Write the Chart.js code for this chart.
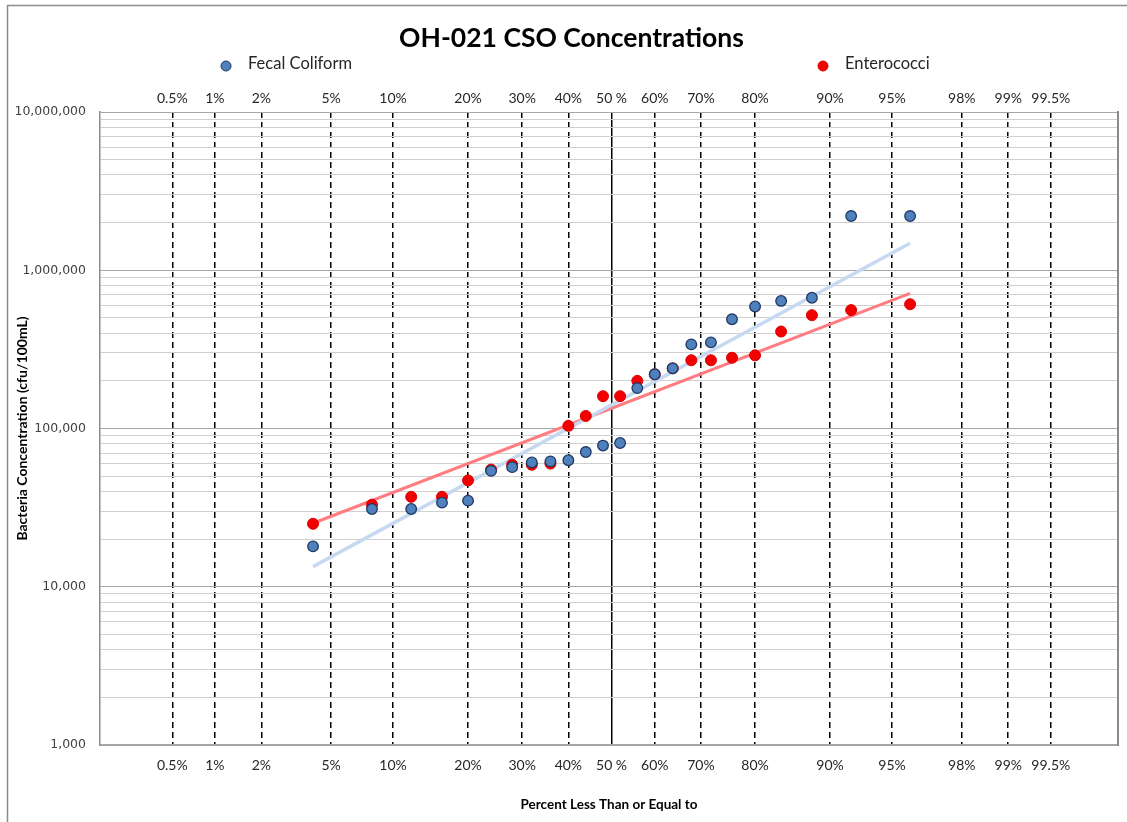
<!DOCTYPE html>
<html>
<head>
<meta charset="utf-8">
<script src="https://cdn.jsdelivr.net/npm/chart.js@4"></script>
<style>
  html, body { margin: 0; padding: 0; background: #ffffff; }
  #wrap { width: 1127px; height: 822px; position: relative; }
  canvas { display: block; }
</style>
</head>
<body>
<div id="wrap"><canvas id="c" width="1127" height="822"></canvas></div>
<script>
// ---- data ----
const plotPercent = [4, 8, 12, 16, 20, 24, 28, 32, 36, 40, 44, 48, 52, 56, 60, 64, 68, 72, 76, 80, 84, 88, 92, 96];
const fecalColiform = [18000, 31000, 31000, 34000, 35000, 54000, 57000, 61000, 62000, 63000, 71000, 78000, 81000, 180000, 220000, 240000, 340000, 350000, 490000, 590000, 640000, 670000, 2200000, 2200000];
const enterococci = [25000, 33000, 37000, 37000, 47000, 55000, 59000, 59000, 60000, 104000, 120000, 160000, 160000, 200000, 220000, 240000, 270000, 270000, 280000, 290000, 410000, 520000, 560000, 610000];
const trendPercent = [4, 96];
const fecalTrend = [13400, 1480000];
const enteroTrend = [25200, 715000];
const percentTicks = [0.5, 1, 2, 5, 10, 20, 30, 40, 50, 60, 70, 80, 90, 95, 98, 99, 99.5];
const percentLabels = ['0.5%', '1%', '2%', '5%', '10%', '20%', '30%', '40%', '50 %', '60%', '70%', '80%', '90%', '95%', '98%', '99%', '99.5%'];
const yMajorTicks = [1000, 10000, 100000, 1000000, 10000000];
const yMajorLabels = ['1,000', '10,000', '100,000', '1,000,000', '10,000,000'];
const seriesNames = ['Fecal Coliform', 'Enterococci'];

// inverse standard normal (probability-paper transform)
function normInv(p) {
  const a = [-3.969683028665376e+01, 2.209460984245205e+02, -2.759285104469687e+02, 1.383577518672690e+02, -3.066479806614716e+01, 2.506628277459239e+00];
  const b = [-5.447609879822406e+01, 1.615858368580409e+02, -1.556989798598866e+02, 6.680131188771972e+01, -1.328068155288572e+01];
  const c = [-7.784894002430293e-03, -3.223964580411365e-01, -2.400758277161838e+00, -2.549732539343734e+00, 4.374664141464968e+00, 2.938163982698783e+00];
  const d = [7.784695709041462e-03, 3.224671290700398e-01, 2.445134137142996e+00, 3.754408661907416e+00];
  const pl = 0.02425, ph = 1 - pl;
  let q, r;
  if (p < pl) {
    q = Math.sqrt(-2 * Math.log(p));
    return (((((c[0]*q+c[1])*q+c[2])*q+c[3])*q+c[4])*q+c[5]) / ((((d[0]*q+d[1])*q+d[2])*q+d[3])*q+1);
  }
  if (p <= ph) {
    q = p - 0.5; r = q * q;
    return (((((a[0]*r+a[1])*r+a[2])*r+a[3])*r+a[4])*r+a[5])*q / (((((b[0]*r+b[1])*r+b[2])*r+b[3])*r+b[4])*r+1);
  }
  q = Math.sqrt(-2 * Math.log(1 - p));
  return -(((((c[0]*q+c[1])*q+c[2])*q+c[3])*q+c[4])*q+c[5]) / ((((d[0]*q+d[1])*q+d[2])*q+d[3])*q+1);
}

const zTicks = percentTicks.map(p => normInv(p / 100));
const toPoints = (pcts, vals) => pcts.map((p, i) => ({ x: normInv(p / 100), y: vals[i] }));

const X_MIN = -3.0, X_MAX = 2.97;
const tickFont = { family: 'Lato', size: 14 };

function setPercentTicks(scale) {
  scale.ticks = zTicks.map(v => ({ value: v }));
}
function percentLabel(value, index) { return percentLabels[index]; }

function setLogTicks(scale) {
  const t = [];
  for (let e = 3; e <= 7; e++) {
    const base = Math.pow(10, e);
    for (let m = 1; m <= 9; m++) {
      const v = m * base;
      if (v > 10000000) break;
      t.push({ value: v, major: m === 1 });
    }
  }
  scale.ticks = t;
}

const frameAndLegend = {
  id: 'frameAndLegend',
  beforeDraw(chart) {
    const ctx = chart.ctx;
    ctx.save();
    ctx.fillStyle = '#ffffff';
    ctx.fillRect(0, 0, chart.width, chart.height);
    ctx.strokeStyle = '#8c8c8c';
    ctx.lineWidth = 1.5;
    ctx.beginPath();
    ctx.moveTo(7.5, chart.height);
    ctx.lineTo(7.5, 5.5);
    ctx.lineTo(chart.width, 5.5);
    ctx.stroke();
    ctx.restore();
  },
  afterDraw(chart, args, opts) {
    const ctx = chart.ctx;
    ctx.save();
    opts.items.forEach(it => {
      const ds = chart.data.datasets[it.dataset];
      ctx.beginPath();
      ctx.arc(it.x, opts.y, 5, 0, Math.PI * 2);
      ctx.fillStyle = ds.backgroundColor;
      ctx.fill();
      ctx.lineWidth = 1;
      ctx.strokeStyle = ds.borderColor;
      ctx.stroke();
      ctx.fillStyle = '#262626';
      ctx.font = '16.5px Lato';
      ctx.textBaseline = 'middle';
      ctx.textAlign = 'left';
      ctx.fillText(ds.label, it.x + 22, opts.y - 2);
    });
    ctx.restore();
  }
};

new Chart(document.getElementById('c'), {
  type: 'scatter',
  plugins: [frameAndLegend],
  data: {
    datasets: [
      {
        label: seriesNames[0],
        data: toPoints(plotPercent, fecalColiform),
        backgroundColor: '#4f81bd',
        borderColor: '#1f3864',
        borderWidth: 1.3,
        pointRadius: 5.3,
        order: 1
      },
      {
        label: seriesNames[1],
        data: toPoints(plotPercent, enterococci),
        backgroundColor: '#f20000',
        borderColor: '#e00000',
        borderWidth: 1,
        pointRadius: 5.5,
        order: 2
      },
      {
        label: 'Fecal trend',
        data: toPoints(trendPercent, fecalTrend),
        showLine: true,
        borderColor: '#c6d9f1',
        backgroundColor: '#c6d9f1',
        borderWidth: 3.5,
        pointRadius: 0,
        order: 3
      },
      {
        label: 'Entero trend',
        data: toPoints(trendPercent, enteroTrend),
        showLine: true,
        borderColor: '#ff7c80',
        backgroundColor: '#ff7c80',
        borderWidth: 3,
        pointRadius: 0,
        order: 3
      }
    ]
  },
  options: {
    responsive: false,
    animation: false,
    events: [],
    layout: { padding: { left: 16, right: 0, top: 0, bottom: 0 } },
    plugins: {
      legend: { display: false },
      tooltip: { enabled: false },
      title: {
        display: true,
        text: 'OH-021 CSO Concentrations',
        color: '#000000',
        font: { family: 'Lato', size: 26.5, weight: 'bold', lineHeight: '32px' },
        padding: { top: 22, bottom: 0 }
      },
      frameAndLegend: {
        y: 66,
        items: [ { dataset: 0, x: 226 }, { dataset: 1, x: 823 } ]
      }
    },
    scales: {
      x: {
        type: 'linear',
        position: 'bottom',
        min: X_MIN,
        max: X_MAX,
        afterBuildTicks: setPercentTicks,
        afterFit(s) { s.height = 77; },
        ticks: { callback: percentLabel, autoSkip: false, maxRotation: 0, minRotation: 0, padding: 12, color: '#262626', font: tickFont },
        grid: {
          drawTicks: false,
          color: '#000000',
          lineWidth: 1.5
        },
        border: {
          display: true,
          color: '#a6a6a6',
          width: 1.5,
          dash: ctx => (ctx.tick && Math.abs(ctx.tick.value) < 1e-9) ? [] : [6, 4]
        },
        title: {
          display: true,
          text: 'Percent Less Than or Equal to',
          color: '#000000',
          font: { family: 'Lato', size: 13.5, weight: 'bold', lineHeight: 1.2 },
          padding: { top: 0, bottom: 9 }
        }
      },
      x2: {
        type: 'linear',
        position: 'top',
        min: X_MIN,
        max: X_MAX,
        afterBuildTicks: setPercentTicks,
        afterFit(s) { s.height = 58; },
        ticks: { callback: percentLabel, autoSkip: false, maxRotation: 0, minRotation: 0, padding: 5, color: '#262626', font: tickFont },
        grid: { display: false, drawTicks: false },
        border: { display: false }
      },
      y: {
        type: 'logarithmic',
        position: 'left',
        min: 1000,
        max: 10000000,
        afterBuildTicks: setLogTicks,
        afterFit(s) { s.width = 84; },
        ticks: {
          autoSkip: false,
          padding: 14,
          color: '#404040',
          font: { family: 'DejaVu Sans', size: 12.5 },
          callback: (v) => {
            const i = yMajorTicks.indexOf(v);
            return i >= 0 ? yMajorLabels[i] : '';
          }
        },
        grid: {
          drawTicks: false,
          color: ctx => (ctx.tick && yMajorTicks.includes(ctx.tick.value)) ? '#a6a6a6' : '#d0d0d0',
          lineWidth: 1
        },
        border: { display: true, color: '#8c8c8c', width: 1.5 },
        title: {
          display: true,
          text: 'Bacteria Concentration (cfu/100mL)',
          color: '#000000',
          font: { family: 'Lato', size: 14, weight: 'bold', lineHeight: 1.2 },
          padding: { top: -2, bottom: 0 }
        }
      },
      y2: {
        type: 'linear',
        position: 'right',
        min: 0,
        max: 1,
        afterFit(s) { s.width = 9; },
        ticks: { display: false },
        grid: { display: false, drawTicks: false },
        border: { display: true, color: '#8a8a8a', width: 2 }
      }
    }
  }
});
</script>
</body>
</html>
